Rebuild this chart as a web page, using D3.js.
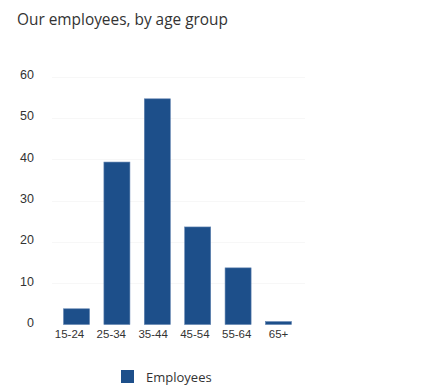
<!DOCTYPE html>
<html>
<head>
<meta charset="utf-8">
<script src="https://cdn.jsdelivr.net/npm/d3@7"></script>
<style>
  body { margin: 0; background: #fff; }
  text { font-family: "Open Sans", sans-serif; }
</style>
</head>
<body>
<div id="chart"></div>
<script>
var ageGroups = ["15-24", "25-34", "35-44", "45-54", "55-64", "65+"];
var employees = [3.8, 39.3, 54.6, 23.6, 13.7, 0.7];
var yTicks = [0, 10, 20, 30, 40, 50, 60];

var width = 423, height = 386;

var svg = d3.select("#chart")
    .append("svg")
    .attr("width", width)
    .attr("height", height);

var xScale = d3.scaleBand()
    .domain(ageGroups)
    .range([51, 304])
    .paddingInner(0.356)
    .paddingOuter(0.31);

// category labels sit on their own, slightly wider spacing
var labelScale = d3.scalePoint()
    .domain(ageGroups)
    .range([69, 278]);

var yScale = d3.scaleLinear()
    .domain([0, 60])
    .range([324.5, 76.5]);

// title
svg.append("text")
    .attr("x", 17)
    .attr("y", 25)
    .attr("fill", "#333")
    .style("font-size", "15.4px")
    .text("Our employees, by age group");

// faint gridlines
svg.append("g")
    .selectAll("line")
    .data(yTicks.slice(1))
    .enter()
    .append("line")
    .attr("x1", 52)
    .attr("x2", 305)
    .attr("y1", function(d){ return Math.round(yScale(d)) + 0.5 })
    .attr("y2", function(d){ return Math.round(yScale(d)) + 0.5 })
    .attr("stroke", "#f7f7f7");

// y axis labels
var yAxis = d3.axisLeft(yScale).tickValues(yTicks).tickSize(0).tickPadding(0);
svg.append("g")
    .attr("transform", "translate(34,-2)")
    .call(yAxis)
    .call(function(g){ g.select(".domain").remove() })
    .selectAll("text")
    .attr("fill", "#333")
    .style("font-size", "12.5px")
    .style("font-family", "Liberation Sans, Arial, sans-serif");

// x axis labels
var xAxis = d3.axisBottom(labelScale).tickSize(0).tickPadding(0);
svg.append("g")
    .attr("transform", "translate(0,330)")
    .call(xAxis)
    .call(function(g){ g.select(".domain").remove() })
    .selectAll("text")
    .attr("fill", "#333")
    .style("font-size", "11.5px")
    .style("font-family", "Liberation Sans, Arial, sans-serif");

// bars
svg.selectAll(".bar")
    .data(employees)
    .enter()
    .append("rect")
    .attr("class", "bar")
    .attr("x", function(d, i){ return xScale(ageGroups[i]) })
    .attr("y", function(d){ return yScale(d) })
    .attr("width", xScale.bandwidth())
    .attr("height", function(d){ return yScale(0) - yScale(d) })
    .attr("fill", "#1d4f8a")
    .attr("stroke", "#5f82b0")
    .attr("stroke-width", 0.6);

// legend
var legend = svg.append("g").attr("transform", "translate(121,370)");
legend.append("rect")
    .attr("width", 13)
    .attr("height", 13)
    .attr("fill", "#1d4f8a");
legend.append("text")
    .attr("x", 25)
    .attr("y", 11.5)
    .attr("fill", "#333")
    .style("font-size", "13px")
    .text("Employees");
</script>
</body>
</html>
